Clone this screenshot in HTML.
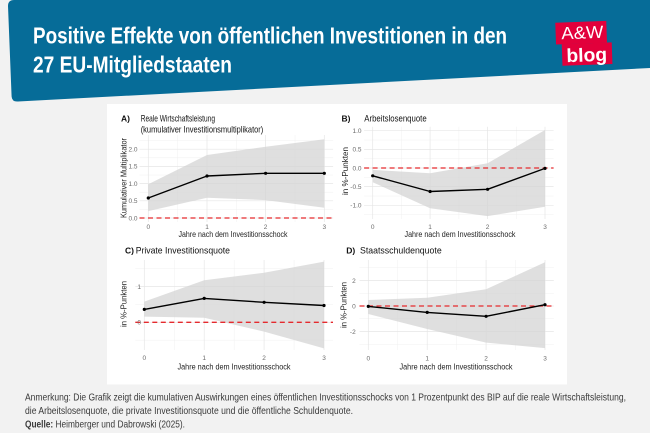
<!DOCTYPE html>
<html>
<head>
<meta charset="utf-8">
<style>
  html,body{margin:0;padding:0;background:#f2f2f2;}
  svg{display:block;}
  .t{font-family:"Liberation Sans",Arial,sans-serif;}
  .tick{font-family:"Liberation Sans",Arial,sans-serif;font-size:6.5px;fill:#6b6b6b;}
  .ax{font-family:"Liberation Sans",Arial,sans-serif;font-size:8px;fill:#222;}
  .ttl{font-family:"Liberation Sans",Arial,sans-serif;font-size:9.3px;fill:#111;}
  .lab{font-family:"Liberation Sans",Arial,sans-serif;font-size:8.5px;font-weight:bold;fill:#111;}
  .gM{stroke:#e6e6e6;stroke-width:0.7;fill:none;}
  .gm{stroke:#f0f0f0;stroke-width:0.5;fill:none;}
  .band{fill:#d4d4d4;fill-opacity:0.75;}
  .ln{stroke:#000;stroke-width:1.4;fill:none;stroke-linejoin:round;}
  .zero{stroke:#e52a2e;stroke-width:1.3;stroke-dasharray:5,3.5;fill:none;}
  .foot{font-family:"Liberation Sans",Arial,sans-serif;font-size:10.3px;fill:#3a3a3a;}
</style>
</head>
<body>
<svg width="650" height="433" viewBox="0 0 650 433" xmlns="http://www.w3.org/2000/svg">
  <rect x="0" y="0" width="650" height="433" fill="#f2f2f2"/>

  <!-- Header -->
  <path d="M14,0 L650,0 L650,68 L18,101.5 Q12,102 11.6,96.5 L8,6 Q8,0 14,0 Z" fill="#066c98"/>
  <text class="t" x="33" y="43.5" font-size="23.5" font-weight="bold" fill="#ffffff" textLength="474" lengthAdjust="spacingAndGlyphs">Positive Effekte von öffentlichen Investitionen in den</text>
  <text class="t" x="33" y="72.5" font-size="23.5" font-weight="bold" fill="#ffffff" textLength="199" lengthAdjust="spacingAndGlyphs">27 EU-Mitgliedstaaten</text>

  <!-- Logo -->
  <g transform="rotate(-2 584 43)">
    <rect x="556" y="21.7" width="51" height="21.8" fill="#e2003b"/>
    <rect x="561.7" y="43.3" width="50" height="21.7" fill="#e2003b"/>
    <text class="t" x="561.7" y="38.5" font-size="17.5" fill="#ffffff" textLength="42" lengthAdjust="spacingAndGlyphs">A&amp;W</text>
    <text class="t" x="566" y="61.5" font-size="19" font-weight="bold" fill="#ffffff" textLength="40.7" lengthAdjust="spacingAndGlyphs">blog</text>
  </g>

  <!-- White panel -->
  <rect x="107" y="104" width="460" height="280.5" fill="#ffffff"/>

  <!-- ===== Panel A ===== -->
  <g>
    <path class="gm" d="M139.5,209.4H333.1M139.5,192.2H333.1M139.5,175H333.1M139.5,157.8H333.1M139.5,140.6H333.1M177.6,135V222M236.3,135V222M295,135V222"/>
    <path class="gM" d="M139.5,218H333.1M139.5,200.8H333.1M139.5,183.6H333.1M139.5,166.4H333.1M139.5,149.2H333.1M148.3,135V222M207,135V222M265.6,135V222M324.3,135V222"/>
    <polygon class="band" points="148.3,184.3 207,155 265.6,146.8 324.3,139.2 324.3,207.7 265.6,200.1 207,197.7 148.3,211.1"/>
    <line class="zero" x1="139.5" y1="218" x2="333.1" y2="218"/>
    <polyline class="ln" points="148.3,198 207,176 265.6,173.3 324.3,173.3"/>
    <circle cx="148.3" cy="198" r="1.6"/><circle cx="207" cy="176" r="1.6"/><circle cx="265.6" cy="173.3" r="1.6"/><circle cx="324.3" cy="173.3" r="1.6"/>
    <text class="tick" x="137.5" y="151.3" text-anchor="end">2.0</text>
    <text class="tick" x="137.5" y="168.6" text-anchor="end">1.5</text>
    <text class="tick" x="137.5" y="185.8" text-anchor="end">1.0</text>
    <text class="tick" x="137.5" y="203" text-anchor="end">0.5</text>
    <text class="tick" x="137.5" y="220.3" text-anchor="end">0.0</text>
    <text class="tick" x="148.3" y="229" text-anchor="middle">0</text>
    <text class="tick" x="207" y="229" text-anchor="middle">1</text>
    <text class="tick" x="265.6" y="229" text-anchor="middle">2</text>
    <text class="tick" x="324.3" y="229" text-anchor="middle">3</text>
    <text class="ax" x="233" y="236.8" text-anchor="middle" textLength="109" lengthAdjust="spacingAndGlyphs">Jahre nach dem Investitionsschock</text>
    <text class="ax" transform="translate(126.3 178) rotate(-90)" text-anchor="middle" textLength="80" lengthAdjust="spacingAndGlyphs">Kumulativer Multiplikator</text>
    <text class="lab" x="121" y="121.3">A)</text>
    <text class="ttl" x="140.7" y="121.3" textLength="74.3" lengthAdjust="spacingAndGlyphs">Reale Wirtschaftsleistung</text>
    <text class="ttl" x="140.7" y="132.3" textLength="122.6" lengthAdjust="spacingAndGlyphs">(kumulativer Investitionsmultiplikator)</text>
  </g>

  <!-- ===== Panel B ===== -->
  <g>
    <path class="gm" d="M364.1,140H553.6M364.1,158.7H553.6M364.1,177.3H553.6M364.1,196H553.6M364.1,214.6H553.6M401.4,126.7V219M458.9,126.7V219M516.3,126.7V219"/>
    <path class="gM" d="M364.1,130.7H553.6M364.1,149.35H553.6M364.1,168H553.6M364.1,186.65H553.6M364.1,205.3H553.6M372.7,126.7V219M430.1,126.7V219M487.6,126.7V219M545,126.7V219"/>
    <polygon class="band" points="372.7,169.9 430.1,173.2 487.6,163.2 545,130 545,206.8 487.6,216.1 430.1,208.3 372.7,182.2"/>
    <line class="zero" x1="364.1" y1="168" x2="553.6" y2="168"/>
    <polyline class="ln" points="372.7,175.8 430.1,191.5 487.6,189.3 545,168.4"/>
    <circle cx="372.7" cy="175.8" r="1.6"/><circle cx="430.1" cy="191.5" r="1.6"/><circle cx="487.6" cy="189.3" r="1.6"/><circle cx="545" cy="168.4" r="1.6"/>
    <text class="tick" x="361.5" y="133" text-anchor="end">1.0</text>
    <text class="tick" x="361.5" y="151.6" text-anchor="end">0.5</text>
    <text class="tick" x="361.5" y="170.3" text-anchor="end">0.0</text>
    <text class="tick" x="361.5" y="189" text-anchor="end">-0.5</text>
    <text class="tick" x="361.5" y="207.6" text-anchor="end">-1.0</text>
    <text class="tick" x="372.7" y="229" text-anchor="middle">0</text>
    <text class="tick" x="430.1" y="229" text-anchor="middle">1</text>
    <text class="tick" x="487.6" y="229" text-anchor="middle">2</text>
    <text class="tick" x="545" y="229" text-anchor="middle">3</text>
    <text class="ax" x="460" y="236.8" text-anchor="middle" textLength="111" lengthAdjust="spacingAndGlyphs">Jahre nach dem Investitionsschock</text>
    <text class="ax" transform="translate(348 171) rotate(-90)" text-anchor="middle" textLength="48" lengthAdjust="spacingAndGlyphs">in %-Punkten</text>
    <text class="lab" x="341.5" y="121.3">B)</text>
    <text class="ttl" x="364.3" y="121.3" textLength="62.4" lengthAdjust="spacingAndGlyphs">Arbeitslosenquote</text>
  </g>

  <!-- ===== Panel C ===== -->
  <g>
    <path class="gm" d="M135.3,268.75H333M135.3,304.45H333M135.3,340.15H333M174.25,260V350M234.15,260V350M294.05,260V350"/>
    <path class="gM" d="M135.3,286.6H333M135.3,322.3H333M144.3,260V350M204.2,260V350M264.1,260V350M324,260V350"/>
    <polygon class="band" points="144.3,301.6 204.2,280.2 264.1,272.7 324,261.6 324,348.4 264.1,331.6 204.2,317.7 144.3,316.6"/>
    <line class="zero" x1="135.3" y1="322.3" x2="333" y2="322.3"/>
    <polyline class="ln" points="144.3,309.4 204.2,298.4 264.1,302.3 324,305.5"/>
    <circle cx="144.3" cy="309.4" r="1.6"/><circle cx="204.2" cy="298.4" r="1.6"/><circle cx="264.1" cy="302.3" r="1.6"/><circle cx="324" cy="305.5" r="1.6"/>
    <text class="tick" x="141" y="289" text-anchor="end">1</text>
    <text class="tick" x="141" y="324.6" text-anchor="end">0</text>
    <text class="tick" x="144.3" y="360" text-anchor="middle">0</text>
    <text class="tick" x="204.2" y="360" text-anchor="middle">1</text>
    <text class="tick" x="264.1" y="360" text-anchor="middle">2</text>
    <text class="tick" x="324" y="360" text-anchor="middle">3</text>
    <text class="ax" x="234" y="369.7" text-anchor="middle" textLength="113" lengthAdjust="spacingAndGlyphs">Jahre nach dem Investitionsschock</text>
    <text class="ax" transform="translate(126.3 304) rotate(-90)" text-anchor="middle" textLength="46" lengthAdjust="spacingAndGlyphs">in %-Punkten</text>
    <text class="lab" x="125" y="253.3">C)</text>
    <text class="ttl" x="135.7" y="253.3" textLength="94.3" lengthAdjust="spacingAndGlyphs">Private Investitionsquote</text>
  </g>

  <!-- ===== Panel D ===== -->
  <g>
    <path class="gm" d="M359.5,267.75H553.8M359.5,293.25H553.8M359.5,318.75H553.8M359.5,344.25H553.8M397.75,260V350M456.65,260V350M515.55,260V350"/>
    <path class="gM" d="M359.5,280.5H553.8M359.5,306H553.8M359.5,331.5H553.8M368.3,260V350M427.2,260V350M486.1,260V350M545,260V350"/>
    <polygon class="band" points="368.3,300 427.2,297.7 486.1,289.3 545,262.3 545,348.1 486.1,342.6 427.2,329 368.3,314"/>
    <line class="zero" x1="359.5" y1="306" x2="553.8" y2="306"/>
    <polyline class="ln" points="368.3,306.4 427.2,312.4 486.1,316.3 545,304.7"/>
    <circle cx="368.3" cy="306.4" r="1.6"/><circle cx="427.2" cy="312.4" r="1.6"/><circle cx="486.1" cy="316.3" r="1.6"/><circle cx="545" cy="304.7" r="1.6"/>
    <text class="tick" x="355.7" y="283" text-anchor="end">2</text>
    <text class="tick" x="355.7" y="308.3" text-anchor="end">0</text>
    <text class="tick" x="355.7" y="334" text-anchor="end">-2</text>
    <text class="tick" x="368.3" y="360.5" text-anchor="middle">0</text>
    <text class="tick" x="427.2" y="360.5" text-anchor="middle">1</text>
    <text class="tick" x="486.1" y="360.5" text-anchor="middle">2</text>
    <text class="tick" x="545" y="360.5" text-anchor="middle">3</text>
    <text class="ax" x="456" y="369.7" text-anchor="middle" textLength="113" lengthAdjust="spacingAndGlyphs">Jahre nach dem Investitionsschock</text>
    <text class="ax" transform="translate(346.3 305) rotate(-90)" text-anchor="middle" textLength="46" lengthAdjust="spacingAndGlyphs">in %-Punkten</text>
    <text class="lab" x="346.2" y="253.3">D)</text>
    <text class="ttl" x="360" y="253.3" textLength="81.7" lengthAdjust="spacingAndGlyphs">Staatsschuldenquote</text>
  </g>

  <!-- Footnote -->
  <text class="foot" x="25" y="400.5" textLength="601" lengthAdjust="spacingAndGlyphs">Anmerkung: Die Grafik zeigt die kumulativen Auswirkungen eines öffentlichen Investitionsschocks von 1 Prozentpunkt des BIP auf die reale Wirtschaftsleistung,</text>
  <text class="foot" x="25" y="414" textLength="328" lengthAdjust="spacingAndGlyphs">die Arbeitslosenquote, die private Investitionsquote und die öffentliche Schuldenquote.</text>
  <text class="foot" x="25" y="427.5" textLength="160" lengthAdjust="spacingAndGlyphs"><tspan font-weight="bold">Quelle:</tspan> Heimberger und Dabrowski (2025).</text>
</svg>
</body>
</html>
